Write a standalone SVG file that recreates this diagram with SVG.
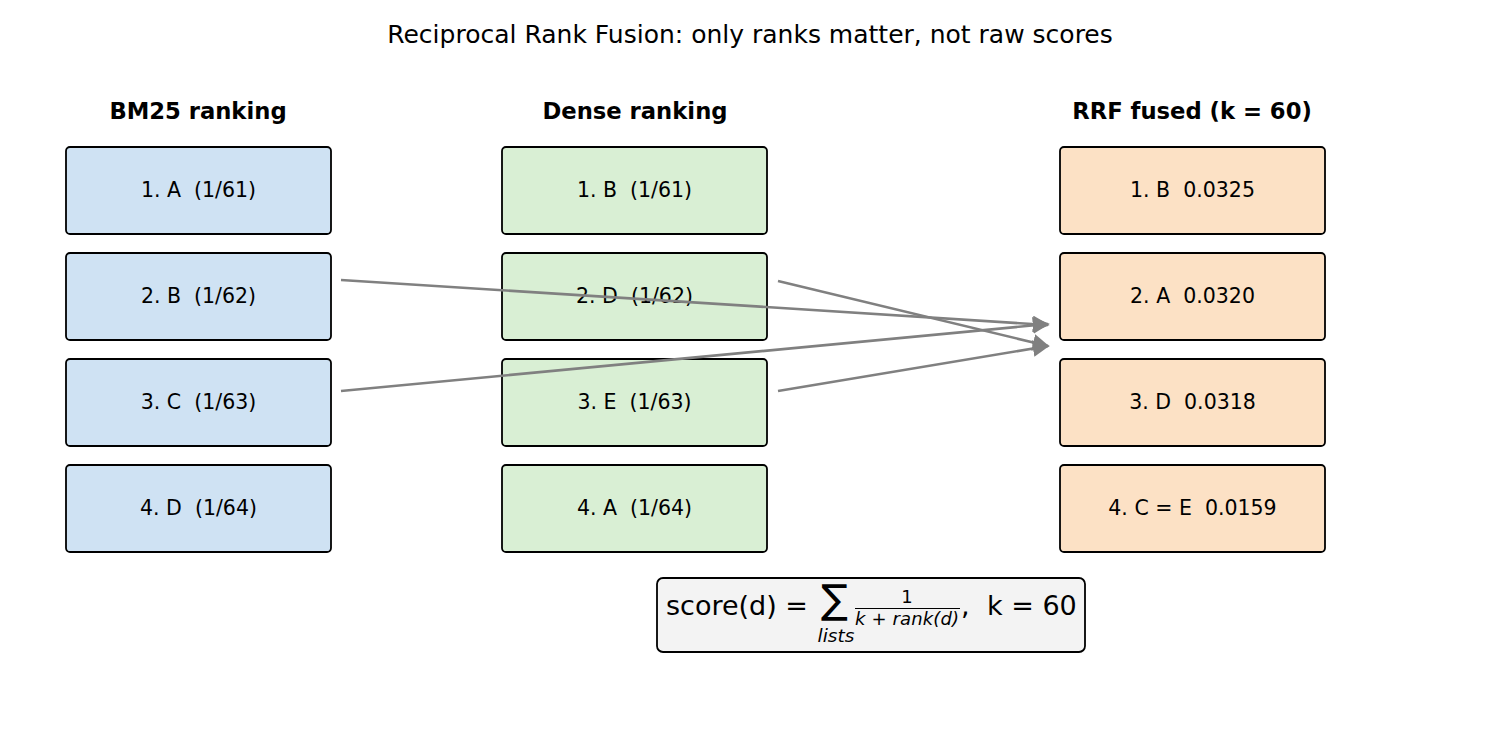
<svg xmlns="http://www.w3.org/2000/svg" width="1500" height="750" viewBox="0 0 1500 750" xml:space="preserve">
<style>
text{font-family:"DejaVu Sans","Liberation Sans",sans-serif;fill:#000;white-space:pre}
.box{stroke:#000;stroke-width:1.8}
.bm{fill:#cfe2f3}.de{fill:#d9efd4}.rr{fill:#fce1c5}.fm{fill:#f3f3f3}
.lbl{font-size:20.5px;text-anchor:middle;dominant-baseline:central}
.hdr{font-size:22.7px;font-weight:bold;text-anchor:middle}
.arr{stroke:#808080;stroke-width:2.6;fill:none;marker-end:url(#ah)}
</style>
<defs>
<marker id="ah" viewBox="0 0 10 10" refX="9" refY="5" markerWidth="6.5" markerHeight="6.5" markerUnits="strokeWidth" orient="auto">
<path d="M0,0 L10,5 L0,10 z" fill="#808080"/>
</marker>
</defs>
<rect width="1500" height="750" fill="#fff"/>
<text x="750" y="43" font-size="25" text-anchor="middle">Reciprocal Rank Fusion: only ranks matter, not raw scores</text>
<text class="hdr" x="198" y="119">BM25 ranking</text>
<text class="hdr" x="635" y="119">Dense ranking</text>
<text class="hdr" x="1192" y="119">RRF fused (k = 60)</text>
<g id="bm1"><rect class="box bm" x="66" y="147" width="265" height="87" rx="4"/><text class="lbl" x="198.5" y="190">1. A  (1/61)</text></g>
<g id="bm2"><rect class="box bm" x="66" y="253" width="265" height="87" rx="4"/><text class="lbl" x="198.5" y="296">2. B  (1/62)</text></g>
<g id="bm3"><rect class="box bm" x="66" y="359" width="265" height="87" rx="4"/><text class="lbl" x="198.5" y="402">3. C  (1/63)</text></g>
<g id="bm4"><rect class="box bm" x="66" y="465" width="265" height="87" rx="4"/><text class="lbl" x="198.5" y="508">4. D  (1/64)</text></g>
<g id="de1"><rect class="box de" x="502" y="147" width="265" height="87" rx="4"/><text class="lbl" x="634.5" y="190">1. B  (1/61)</text></g>
<g id="de2"><rect class="box de" x="502" y="253" width="265" height="87" rx="4"/><text class="lbl" x="634.5" y="296">2. D  (1/62)</text></g>
<g id="de3"><rect class="box de" x="502" y="359" width="265" height="87" rx="4"/><text class="lbl" x="634.5" y="402">3. E  (1/63)</text></g>
<g id="de4"><rect class="box de" x="502" y="465" width="265" height="87" rx="4"/><text class="lbl" x="634.5" y="508">4. A  (1/64)</text></g>
<g id="rr1"><rect class="box rr" x="1060" y="147" width="265" height="87" rx="4"/><text class="lbl" x="1192.5" y="190">1. B  0.0325</text></g>
<g id="rr2"><rect class="box rr" x="1060" y="253" width="265" height="87" rx="4"/><text class="lbl" x="1192.5" y="296">2. A  0.0320</text></g>
<g id="rr3"><rect class="box rr" x="1060" y="359" width="265" height="87" rx="4"/><text class="lbl" x="1192.5" y="402">3. D  0.0318</text></g>
<g id="rr4"><rect class="box rr" x="1060" y="465" width="265" height="87" rx="4"/><text class="lbl" x="1192.5" y="508">4. C = E  0.0159</text></g>
<g id="connectors">
<line class="arr" x1="341" y1="280" x2="1048" y2="325"/>
<line class="arr" x1="341" y1="391" x2="1048" y2="324"/>
<line class="arr" x1="778" y1="281" x2="1048" y2="346"/>
<line class="arr" x1="778" y1="391" x2="1048" y2="346"/>
</g>
<g id="formula">
<rect class="box fm" x="657" y="578" width="428" height="74" rx="6"/>
<text x="666" y="615" font-size="27">score(d) =</text>
<text x="821" y="613" font-size="40">∑</text>
<text x="836" y="642" font-size="18.5" font-style="italic" text-anchor="middle">lists</text>
<text x="907" y="603" font-size="18" text-anchor="middle">1</text>
<line x1="855" y1="608.5" x2="960" y2="608.5" stroke="#000" stroke-width="1"/>
<text x="907" y="625" font-size="18" text-anchor="middle" font-style="italic" textLength="104">k + rank(d)</text>
<text x="961" y="615" font-size="27">,</text>
<text x="987" y="615" font-size="27">k = 60</text>
</g>
</svg>
